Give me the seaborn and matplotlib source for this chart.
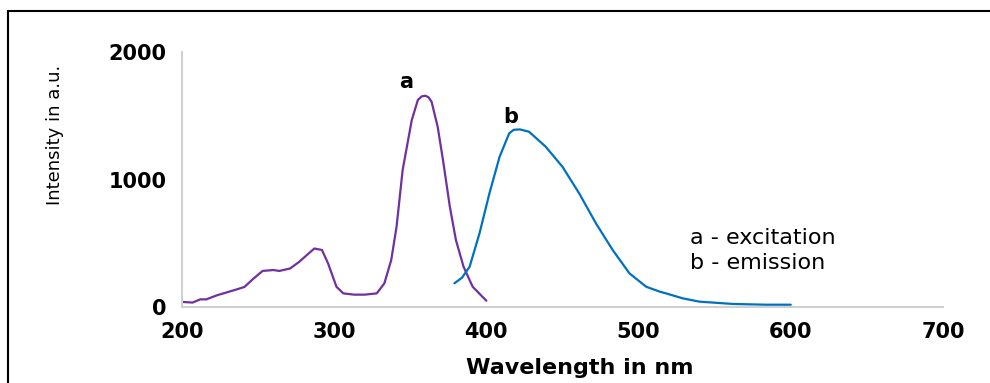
import numpy as np
import pandas as pd
import matplotlib
matplotlib.use("Agg")
import matplotlib.pyplot as plt
import seaborn as sns
from matplotlib.lines import Line2D

# excitation spectrum (a)
exc_wl = [200, 207, 212, 216, 223, 234, 241, 247, 253, 260, 264, 271, 277, 282,
          287, 292, 296, 301.5, 306, 313, 320, 328, 333, 337.5, 341, 345, 351,
          355, 357.5, 360, 362, 364, 368, 371.5, 376, 380, 385, 391, 400]
exc_int = [40, 35, 60, 60, 92, 131, 157, 223, 283, 290, 283, 302, 354, 407,
           459, 447, 342, 159, 107, 97, 97, 107, 186, 369, 630, 1075, 1467,
           1624, 1652, 1657, 1645, 1610, 1414, 1153, 787, 525, 316, 159, 49]

# emission spectrum (b)
emi_wl = [379, 384, 389, 395.5, 402, 408.7, 415, 418, 422, 428, 439, 450, 461,
          472, 483, 494, 505, 514, 518, 529, 540, 562, 584, 600]
emi_int = [186, 230, 316, 578, 891, 1179, 1362, 1390, 1393, 1375, 1257, 1100,
           891, 656, 447, 264, 159, 120, 107, 68, 42, 24, 18, 18]

x_ticks = [200, 300, 400, 500, 600, 700]
y_ticks = [0, 1000, 2000]

sns.set_style("white")
plt.rcParams['font.family'] = ['DejaVu Sans']
plt.rcParams['text.color'] = 'black'
plt.rcParams['xtick.labelcolor'] = 'black'
plt.rcParams['ytick.labelcolor'] = 'black'

fig = plt.figure(figsize=(9.9, 3.83), dpi=100)
ax = fig.add_axes([0.1838, 0.1984, 0.7687, 0.6658])

df_a = pd.DataFrame({"wl": exc_wl, "I": exc_int})
df_b = pd.DataFrame({"wl": emi_wl, "I": emi_int})
sns.lineplot(data=df_a, x="wl", y="I", color="#7030A0", lw=1.6, ax=ax, sort=False)
sns.lineplot(data=df_b, x="wl", y="I", color="#0070C0", lw=1.6, ax=ax, sort=False)

ax.set_xlim(200, 700)
ax.set_ylim(0, 2000)
ax.set_xticks(x_ticks)
ax.set_yticks(y_ticks)
ax.tick_params(axis="both", direction="out", length=5, width=1.2, color="#BFBFBF",
               labelsize=15, pad=6)
for lab in ax.get_xticklabels() + ax.get_yticklabels():
    lab.set_fontweight("bold")
ax.set_xlabel("")
ax.set_ylabel("")
sns.despine(ax=ax)
for s in ["left", "bottom"]:
    ax.spines[s].set_color("#D0D0D0")
    ax.spines[s].set_linewidth(1.5)

ax.text(347, 1765, "a", fontsize=15, fontweight="bold", ha="center", va="center")
ax.text(416, 1490, "b", fontsize=15, fontweight="bold", ha="center", va="center")
ax.text(534, 541, "a - excitation", fontsize=16, ha="left", va="center")
ax.text(534, 345, "b - emission", fontsize=16, ha="left", va="center")

fig.text(580 / 990, 1 - 368 / 383, "Wavelength in nm", fontsize=16,
         fontweight="bold", ha="center", va="center")
fig.text(55 / 990, 1 - 135 / 383, "Intensity in a.u.", fontsize=13,
         rotation=90, ha="center", va="center")

# frame lines around the picture
fig.add_artist(Line2D([8 / 990, 1], [1 - 11 / 383, 1 - 11 / 383],
                      transform=fig.transFigure, color="black", lw=1.5))
fig.add_artist(Line2D([8 / 990, 8 / 990], [0, 1 - 11 / 383],
                      transform=fig.transFigure, color="black", lw=1.5))

fig.savefig("out.png", dpi=100)
